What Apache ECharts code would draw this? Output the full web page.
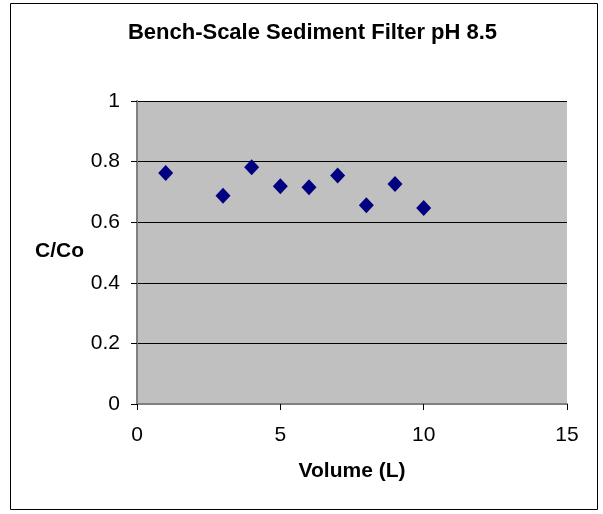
<!DOCTYPE html>
<html>
<head>
<meta charset="utf-8">
<script src="https://cdn.jsdelivr.net/npm/echarts@6/dist/echarts.min.js"></script>
<style>html,body{margin:0;padding:0;background:#fff;}#c{width:603px;height:514px;}</style>
</head>
<body>
<div id="c"></div>
<script>
var volumes = [1, 3, 4, 5, 6, 7, 8, 9, 10];
var ratios = [0.762, 0.687, 0.781, 0.719, 0.715, 0.754, 0.656, 0.726, 0.647];
var titleText = 'Bench-Scale Sediment Filter pH 8.5';
var xName = 'Volume (L)';
var yName = 'C/Co';

var pts = volumes.map(function (v, i) { return [v, ratios[i]]; });
var chart = echarts.init(document.getElementById('c'));
var font = 'Liberation Sans, Arial, sans-serif';
chart.setOption({
  animation: false,
  backgroundColor: '#fff',
  graphic: [
    { type: 'rect', shape: { x: 10.5, y: 3.5, width: 587, height: 506 }, style: { fill: 'none', stroke: '#000', lineWidth: 1 }, z: -1 },
    { type: 'text', x: 312.5, y: 33, style: { text: titleText, fontFamily: font, fontSize: 22, fontWeight: 'bold', fill: '#000', align: 'center', verticalAlign: 'middle' } },
    { type: 'text', left: 35, top: 241, style: { text: yName, fontFamily: font, fontSize: 21, fontWeight: 'bold', fill: '#000' } }
  ],
  grid: { left: 137, right: 36, top: 101, bottom: 110, show: true, backgroundColor: '#C0C0C0', borderWidth: 0 },
  xAxis: {
    type: 'value', min: 0, max: 15, interval: 5,
    name: xName, nameLocation: 'middle', nameGap: 57,
    nameTextStyle: { fontFamily: font, fontSize: 21, fontWeight: 'bold', color: '#000' },
    axisLine: { show: true, lineStyle: { color: '#808080', width: 2 } },
    axisTick: { show: true, inside: false, length: 6, lineStyle: { color: '#000' } },
    axisLabel: { fontFamily: font, fontSize: 21, color: '#000', margin: 21 },
    splitLine: { show: false }
  },
  yAxis: {
    type: 'value', min: 0, max: 1, interval: 0.2,
    axisLine: { show: true, lineStyle: { color: '#808080', width: 2 } },
    axisTick: { show: true, inside: false, length: 6, lineStyle: { color: '#000' } },
    axisLabel: { fontFamily: font, fontSize: 21, color: '#000', margin: 17 },
    splitLine: { show: true, lineStyle: { color: '#000', width: 1 } }
  },
  series: [{
    type: 'scatter', data: pts, symbol: 'diamond', symbolSize: [15, 16],
    itemStyle: { color: '#000080', opacity: 1 }
  }]
});
</script>
</body>
</html>
